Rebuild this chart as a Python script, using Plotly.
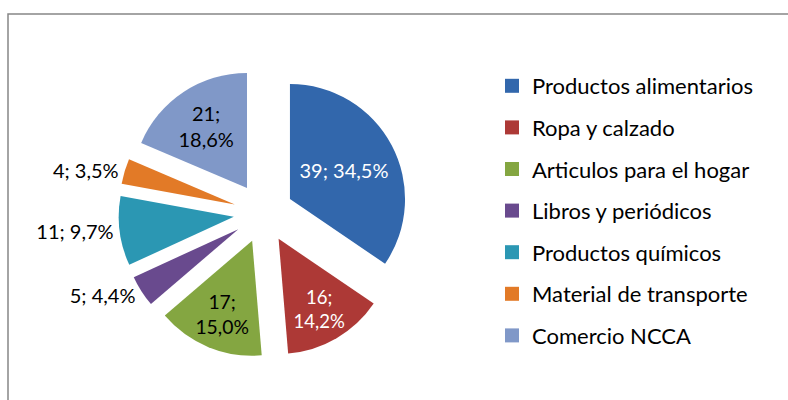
import plotly.graph_objects as go

categories = ["Productos alimentarios", "Ropa y calzado", "Articulos para el hogar",
              "Libros y periódicos", "Productos químicos", "Material de transporte",
              "Comercio NCCA"]
values = [39, 16, 17, 5, 11, 4, 21]
colors = ["#3267AC", "#AD3936", "#84A641", "#694A8E", "#2B97B3", "#E27A27", "#8098C8"]
text_colors = ["white", "white", "black", "black", "black", "black", "black"]
text_positions = ["inside", "inside", "inside", "outside", "outside", "outside", "inside"]
templates = ["%{value}; %{percent:.1%}", "%{value};<br>%{percent:.1%}", "%{value};<br>%{percent:.1%}",
             "%{value}; %{percent:.1%}", "%{value}; %{percent:.1%}", "%{value}; %{percent:.1%}",
             "%{value};<br>%{percent:.1%}"]

W, H = 788, 400
FONT = "Lato"
FS_LABEL = 20
FS_LEGEND = 22

fig = go.Figure()
fig.add_trace(go.Pie(
    labels=categories, values=values, sort=False, direction="clockwise", rotation=0,
    marker=dict(colors=colors, line=dict(width=0)),
    pull=[0.26] * len(values),
    texttemplate=templates, textposition=text_positions,
    insidetextorientation="horizontal",
    textfont=dict(family=FONT, size=FS_LABEL, color=text_colors),
    showlegend=False,
    domain=dict(x=[118.5 / W, 408.5 / W], y=[1 - 358 / H, 1 - 68 / H]),
))

for name, c in zip(categories, colors):
    fig.add_trace(go.Scatter(
        x=[None], y=[None], mode="markers", name=name, legendgroup=name,
        marker=dict(symbol="square", size=14, color=c, line=dict(width=0)),
        showlegend=True,
    ))

fig.add_shape(type="rect", xref="paper", yref="paper",
              x0=8 / W, x1=1.05, y0=-0.05, y1=1 - 14 / H,
              line=dict(color="#868686", width=1.5), fillcolor="rgba(0,0,0,0)")

fig.update_layout(
    width=W, height=H, margin=dict(l=0, r=0, t=0, b=0, autoexpand=False),
    paper_bgcolor="white", plot_bgcolor="white",
    separators=",.",
    font=dict(family=FONT, size=FS_LABEL, color="black"),
    xaxis=dict(visible=False), yaxis=dict(visible=False),
    legend=dict(x=492 / W, xanchor="left", y=1 - 65 / H, yanchor="top",
                font=dict(family=FONT, size=FS_LEGEND, color="black"),
                tracegroupgap=10, traceorder="grouped", bgcolor="rgba(0,0,0,0)"),
)

fig.write_html("out.html", config={"displayModeBar": False},
               post_script="document.body.style.margin='0';document.body.style.padding='0';")
